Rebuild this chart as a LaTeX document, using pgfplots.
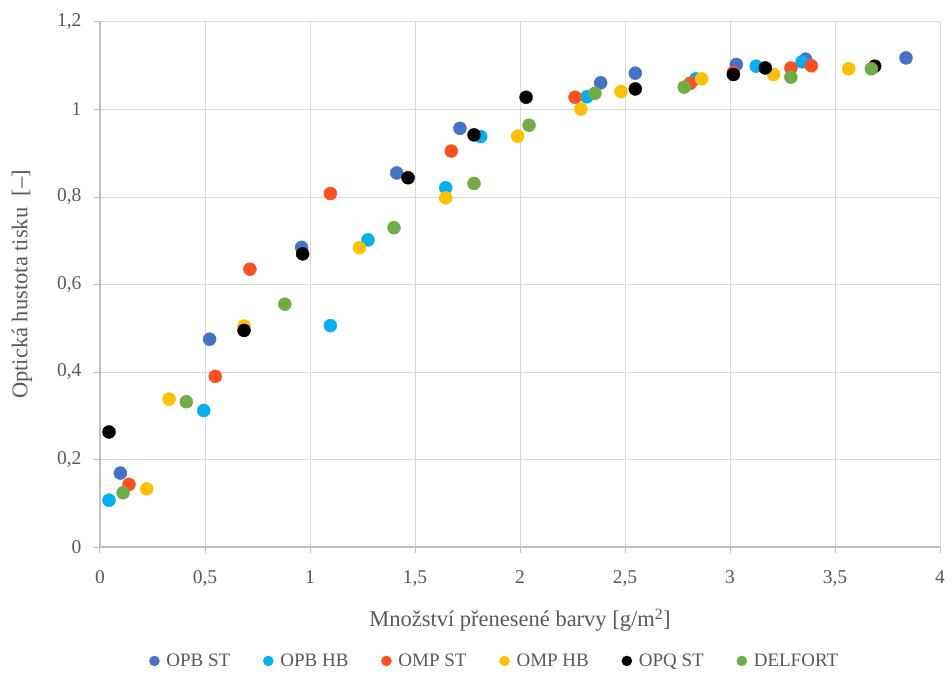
\documentclass[border=0pt]{standalone}
\usepackage{pgfplots}
\pgfplotsset{compat=1.18}
\usepackage{fontspec}
\setmainfont{Liberation Serif}
\definecolor{cblue}{HTML}{4472C4}
\definecolor{ccyan}{HTML}{00B0F0}
\definecolor{cred}{HTML}{FF4F1F}
\definecolor{cyellow}{HTML}{FFC000}
\definecolor{cgreen}{HTML}{70AD47}
\definecolor{txt}{HTML}{595959}
\definecolor{gridc}{HTML}{D9D9D9}
\definecolor{axc}{HTML}{BFBFBF}
\begin{document}
\begin{tikzpicture}
\begin{axis}[
  scale only axis, width=840pt, height=525pt,
  xmin=0, xmax=4, ymin=0, ymax=1.2,
  xtick={0,0.5,...,4}, ytick={0,0.2,...,1.2},
  axis x line=bottom, axis y line=left,
  axis line style={draw=axc, line width=1.2pt, -},
  grid=major, major grid style={draw=gridc, line width=1pt},
  tick align=outside, major tick length=6pt,
  tick style={draw=axc, line width=1pt},
  /pgf/number format/assume math mode=true,
  /pgf/number format/use comma,
  /pgf/number format/fixed,
  font=\fontsize{19}{22}\selectfont,
  ticklabel style={text=txt, font=\fontsize{19.5}{22}\selectfont},
  xticklabel style={yshift=-14pt},
  yticklabel style={xshift=-9pt},
  xlabel={Množství přenesené barvy [g/m\textsuperscript{2}]},
  ylabel={Optická hustota tisku\ \ [–]},
  xlabel style={at={(axis description cs:0.5,-0.139)}, anchor=center, text=txt, font=\fontsize{22.5}{26}\selectfont},
  ylabel style={at={(axis description cs:-0.0929,0.5)}, anchor=center, text=txt, font=\fontsize{22.5}{26}\selectfont},
  legend columns=6,
  legend style={at={(axis description cs:0.47,-0.217)}, anchor=center, draw=none, fill=none,
    text=txt, font=\fontsize{19}{22}\selectfont,
    /tikz/every odd column/.append style={column sep=5pt},
    /tikz/every even column/.append style={column sep=31pt}},
  legend image post style={mark size=5pt},
  every axis plot/.append style={only marks, mark=*, mark size=6.5pt},
  clip=false,
]
\addplot[mark options={draw=cblue, fill=cblue}] coordinates {
(0.097,0.169) (0.522,0.475) (0.960,0.685) (1.413,0.855) (1.714,0.957)
(2.384,1.061) (2.549,1.083) (3.030,1.103) (3.360,1.115) (3.838,1.118)};
\addlegendentry{OPB ST}
\addplot[mark options={draw=ccyan, fill=ccyan}] coordinates {
(0.043,0.107) (0.494,0.312) (1.097,0.506) (1.276,0.702) (1.646,0.821)
(1.813,0.938) (2.318,1.029) (2.837,1.070) (3.125,1.099) (3.343,1.109)};
\addlegendentry{OPB HB}
\addplot[mark options={draw=cred, fill=cred}] coordinates {
(0.138,0.143) (0.549,0.390) (0.714,0.635) (1.097,0.808) (1.673,0.905)
(2.262,1.028) (2.811,1.060) (3.016,1.085) (3.290,1.095) (3.387,1.100)};
\addlegendentry{OMP ST}
\addplot[mark options={draw=cyellow, fill=cyellow}] coordinates {
(0.222,0.133) (0.329,0.338) (0.686,0.505) (1.235,0.684) (1.646,0.798)
(1.989,0.939) (2.290,1.001) (2.481,1.041) (2.865,1.070) (3.208,1.080) (3.565,1.093)};
\addlegendentry{OMP HB}
\addplot[mark options={draw=black, fill=black}] coordinates {
(0.043,0.263) (0.686,0.495) (0.965,0.670) (1.467,0.844) (1.781,0.942)
(2.029,1.028) (2.549,1.047) (3.016,1.080) (3.168,1.095) (3.689,1.099)};
\addlegendentry{OPQ ST}
\addplot[mark options={draw=cgreen, fill=cgreen}] coordinates {
(0.110,0.124) (0.411,0.332) (0.880,0.555) (1.400,0.730) (1.781,0.831)
(2.043,0.964) (2.357,1.037) (2.782,1.051) (3.290,1.074) (3.673,1.093)};
\addlegendentry{DELFORT}
\coordinate (SW) at (rel axis cs:0,0);
\coordinate (NE) at (rel axis cs:1,1);
\end{axis}
\pgfresetboundingbox
\path ([shift={(-100pt,-126pt)}]SW) rectangle ([shift={(11pt,22pt)}]NE);
\end{tikzpicture}
\end{document}
